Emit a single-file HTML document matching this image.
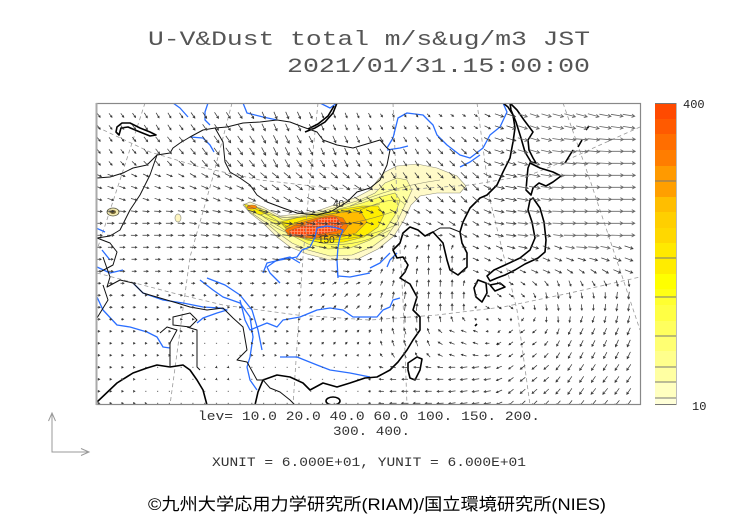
<!DOCTYPE html>
<html><head><meta charset="utf-8"><style>
html,body{margin:0;padding:0;background:#fff;}
svg{display:block;}
</style></head><body>
<svg id="s" width="752" height="532" viewBox="0 0 752 532" xmlns="http://www.w3.org/2000/svg">
<defs>
<clipPath id="cp"><rect x="96.5" y="103.5" width="544" height="301"/></clipPath>
<pattern id="hatch" width="3" height="3" patternUnits="userSpaceOnUse">
<rect width="3" height="3" fill="#ff4a10"/>
<path d="M0 0.5H3M0.5 0V3" stroke="#ff9a70" stroke-width="0.7"/>
</pattern>
</defs>
<rect width="752" height="532" fill="#fff"/>

<text x="148" y="45" textLength="442" lengthAdjust="spacingAndGlyphs" font-family="Liberation Mono, monospace" font-size="20" fill="#555">U-V&amp;Dust total m/s&amp;ug/m3 JST</text>
<text x="287" y="72" textLength="303" lengthAdjust="spacingAndGlyphs" font-family="Liberation Mono, monospace" font-size="20" fill="#555">2021/01/31.15:00:00</text>

<g clip-path="url(#cp)">
<!-- plume -->
<g stroke="#665" stroke-width="0.6" stroke-opacity="0.75">
<polygon fill="#fffac8" points="243,205 250,202 263,207 280,216 297,214 317,211 337,204 357,197 370,190 377,181 385,172 397,166 417,164 437,168 457,176 466,186 460,193 437,193 420,196 411,205 404,220 394,236 378,249 358,259 330,260 307,254 290,247 277,237 263,223 250,213"/>
<polygon fill="#ffffa0" points="245,205 260,208 280,218 300,216 320,212 340,206 360,200 375,193 385,183 397,178 407,180 412,190 405,205 397,222 387,236 372,247 352,255 330,256 308,250 292,243 278,233 265,222 250,212"/>
<polygon fill="#ffff60" points="250,206 265,210 283,220 303,217 323,213 343,208 362,203 380,197 395,193 400,200 395,215 385,230 370,240 350,248 328,249 308,244 293,236 280,227 265,218"/>
<polygon fill="#ffee00" points="280,222 300,217 322,213 343,209 362,206 378,206 384,215 378,227 364,237 344,242 324,243 307,240 290,233"/>
<polygon fill="#ffee00" points="244,204 256,207 266,213 260,215 248,210"/>
<polygon fill="#ffbb00" points="285,227 303,220 325,215 345,212 361,212 367,222 356,233 338,238 318,239 300,237"/>
<polygon fill="#ff7700" points="285,230 297,224 317,218 332,215 343,218 348,226 343,233 330,235 316,238 302,238 288,235"/>
<polygon fill="url(#hatch)" points="289,231 305,225 321,218 336,217 343,225 337,231 322,234 308,236 292,236"/>
<ellipse cx="252" cy="207" rx="5" ry="2" fill="#ff8800"/>
<path fill="none" d="M262,212 C290,224 330,214 380,204 M258,214 C295,232 340,230 392,212 M270,224 C300,244 350,246 398,224 M300,236 C330,250 360,246 390,230 M350,206 C380,192 410,184 440,180 M360,210 C385,200 400,196 405,205 M248,206 C265,212 275,220 290,228"/>
</g>
<ellipse cx="113" cy="212" rx="6" ry="4" fill="#f3eab0" stroke="#554" stroke-width="0.8"/>
<ellipse cx="113" cy="212" rx="3" ry="2" fill="#776633"/>
<ellipse cx="178" cy="218" rx="3" ry="4" fill="#fff6c0" stroke="#998" stroke-width="0.7"/>
<text x="333" y="207" font-family="Liberation Sans, sans-serif" font-size="10" fill="#333">40</text>
<text x="318" y="243" font-family="Liberation Sans, sans-serif" font-size="10" fill="#333">150</text>

<!-- dashed grid -->
<g fill="none" stroke="#999" stroke-width="0.8" stroke-dasharray="4,3">
<polyline points="145,103 120,180 97,250"/>
<polyline points="232,103 212,180 190,257 170,405"/>
<polyline points="318,103 310,180 303,257 293,405"/>
<polyline points="393,103 397,200 403,300 407,405"/>
<polyline points="477,103 490,200 517,310 530,405"/>
<polyline points="563,103 590,180 620,270 640,330"/>
<polyline points="97,127 150,152 200,167 260,180 330,188 400,190 470,185 530,175 567,160 600,145 640,127"/>
<polyline points="97,273 173,293 223,305 297,315 370,320 437,315 503,307 570,293 640,277"/>
</g>

<!-- rivers -->
<g fill="none" stroke="#2a6eff" stroke-width="1.3" stroke-linejoin="round">
<polyline points="173,103 180,108 188,117"/>
<polyline points="208,103 205,112 205,120 210,125"/>
<polyline points="190,137 203,138 210,145 214,152"/>
<polyline points="243,103 247,113 263,117 277,120"/>
<polyline points="320,103 330,108 337,103"/>
<polyline points="387,148 393,138 398,118 407,113 423,115 433,125 437,135 447,145 460,155 470,158 483,148 490,135 500,127 507,112 503,103"/>
<polyline points="460,167 470,162 480,155"/>
<polyline points="387,150 400,148 408,146"/>
<polyline points="263,273 267,263 280,260 297,257 302,250 310,247 315,237 317,228 327,226 337,228 343,230 340,237 338,247 337,260 338,278"/>
<polyline points="337,270 338,276 350,277 370,273"/>
<polyline points="397,253 390,260 387,267"/>
<polyline points="370,268 380,263 390,253"/>
<polyline points="240,300 245,320 250,330 267,323 277,327 283,320 300,317 317,310 330,308 343,310 353,317 370,317 377,317 383,310 390,307 393,300 400,298"/>
<polyline points="280,357 297,357 317,365 330,370 350,373 370,377"/>
<polyline points="97,297 103,310 117,325 130,327 147,332 157,337 163,347 170,348"/>
<polyline points="133,283 143,293 163,300 183,303 203,307 220,308 227,310 217,313 203,318 197,323"/>
<polyline points="200,280 213,290 223,297 240,303 250,317 253,337 250,357 247,367 250,380 257,390"/>
<polyline points="207,278 225,285 240,295 252,310 258,330 262,350"/>
<polyline points="97,267 110,273 123,270"/>
<polyline points="102,250 110,260"/>
<polyline points="300,263 290,257 277,260 267,267 270,273 280,283"/>
<polyline points="96,228 105,232"/>
</g>

<!-- coasts -->
<g fill="none" stroke="#000" stroke-width="1.6" stroke-linejoin="round">
<polyline points="503,103 508,107 513,115 515,128 513,142 510,158 503,172 497,185 487,195 480,198 470,208 463,222 460,232 462,243 467,253 467,267 458,275 450,270 447,260 443,243 433,232 425,236 418,230 410,227 403,233 400,243 393,250 397,258 403,257 408,265 405,272 400,278 410,284 417,297 413,310 420,317 420,330 413,340 407,350 398,362 390,370 377,377 365,378 350,383 337,387 323,383 310,390 303,383 290,377 277,375 263,380 258,392 255,405"/>
<polyline points="97,402 117,383 133,373 147,368 157,365 170,367 183,365 190,370 197,380 203,390 207,405"/>
<polygon points="510,103 517,110 524,120 530,128 533,132 528,140 529,150 533,158 536,163 531,162 525,152 521,138 516,122 511,110"/>
<polygon points="530,163 540,168 553,172 561,176 553,182 546,186 539,183 533,188 531,195 526,190 527,178 528,168"/>
<polygon points="533,198 540,208 544,222 546,240 545,252 538,258 525,264 515,270 505,275 497,278 490,281 487,276 494,270 505,265 520,258 530,250 535,238 532,222 528,210 530,200"/>
<polygon points="478,280 486,283 487,293 482,302 476,297 474,288"/>
<polygon points="490,285 500,283 505,287 495,291"/>
<polygon points="408,363 417,357 422,359 420,370 415,380 410,378 408,370"/>
<polygon points="117,127 122,123 130,123 140,128 150,132 156,135 150,136 140,132 128,127 121,128 119,135 116,132"/>
<polyline points="305,132 315,128 325,122 333,113 337,103"/>
<polyline points="308,129 318,124 328,116 334,106"/>
<ellipse cx="333" cy="401" rx="7" ry="4"/>
<path d="M565,163 L573,150 M578,147 L582,140 M586,130 L589,126 M475,326 l2,-2 M497,345 l1,-2"/>
</g>

<!-- borders -->
<g fill="none" stroke="#111" stroke-width="1" stroke-linejoin="round">
<polyline points="97,178 110,177 123,173 133,168 147,165 157,155 170,153 173,148 180,143 190,137 203,130 215,128 227,127 243,123 260,122 277,120 290,122 303,127 317,132 323,140 337,145 353,148 370,143 380,140 387,148"/>
<polyline points="215,128 223,142 225,162 230,172 240,178 250,185 257,195 267,202 283,208 297,213 317,215 330,212 347,202 357,192 370,188 380,180 387,165 390,150 387,148"/>
<polyline points="157,155 150,175 140,195 130,210 120,230 110,236 97,238"/>
<polyline points="97,238 110,243 117,252 113,265 100,272"/>
<polyline points="103,257 110,277 107,287 120,280 133,283 143,293 160,298 177,303 190,307 207,310 223,308 233,318 243,327 247,350 237,360 247,362 257,380 263,380"/>
<polygon points="173,317 190,313 197,320 190,327 173,325"/>
<polyline points="160,333 167,327 177,330 170,343 170,367"/>
<polyline points="187,327 197,330 197,367 200,370"/>
<polyline points="263,380 270,388 280,392 290,400 295,405"/>
<polyline points="97,318 108,300 103,285"/>
<polyline points="433,232 440,228 450,228 460,232"/>
</g>

<path id="arr" fill="none" stroke="#383838" stroke-width="0.75" d=""/>
<path id="arr2" fill="none" stroke="#666" stroke-width="0.8" d=""/>
</g>

<!-- frame -->
<rect x="96.5" y="103.5" width="544" height="301" fill="none" stroke="#888" stroke-width="1.2"/>
<line x1="96.5" y1="103" x2="96.5" y2="405" stroke="#aaa" stroke-width="2"/>

<!-- colorbar -->
<g id="cb"></g>
<text x="683" y="108" font-family="Liberation Mono, monospace" font-size="12" fill="#222">400</text>
<text x="692" y="410" font-family="Liberation Mono, monospace" font-size="12" fill="#222">10</text>

<!-- axis arrows -->
<g fill="none" stroke="#999" stroke-width="1">
<path d="M52 413V452H89"/>
<path d="M48.5 421L52 413L55.5 421"/>
<path d="M81 448.5L89 452L81 455.5"/>
</g>

<text x="198" y="420" textLength="342" lengthAdjust="spacingAndGlyphs" font-family="Liberation Mono, monospace" font-size="12.5" fill="#333">lev= 10.0 20.0 40.0 60.0 100. 150. 200.</text>
<text x="333" y="435" textLength="77" lengthAdjust="spacingAndGlyphs" font-family="Liberation Mono, monospace" font-size="12.5" fill="#333">300. 400.</text>
<text x="212" y="466" textLength="314" lengthAdjust="spacingAndGlyphs" font-family="Liberation Mono, monospace" font-size="12.5" fill="#333">XUNIT = 6.000E+01, YUNIT = 6.000E+01</text>
<text x="148" y="510" textLength="458" lengthAdjust="spacingAndGlyphs" font-family="Liberation Sans, Noto Sans CJK JP, sans-serif" font-size="17" fill="#000">©九州大学応用力学研究所(RIAM)/国立環境研究所(NIES)</text>
</svg>
<script>
(function(){
var NS="http://www.w3.org/2000/svg";
var b=[103,119,134,150,166,181,197,212,228,243,258,274,289,297,305,321,336,351,367,382,398,405];
var c=["#ff4a00","#ff5a00","#ff6e00","#ff7d00","#ff9a00","#ff9f00","#ffbe00","#ffcf00","#ffd800","#ffe900","#ffec00","#ffff00","#ffff14","#ffff30","#ffff44","#ffff5e","#ffff72","#ffff8c","#ffffa2","#ffffc0","#ffffd8"];
var g=document.getElementById("cb");
for(var i=0;i<c.length;i++){var r=document.createElementNS(NS,"rect");r.setAttribute("x",655);r.setAttribute("y",b[i]);r.setAttribute("width",22);r.setAttribute("height",b[i+1]-b[i]+0.3);r.setAttribute("fill",c[i]);g.appendChild(r);}
var lines=[181,258,297,336,367,382,398];
var d="M655 103.5H677M655 404.5H677";
lines.forEach(function(y){d+="M655 "+y+"H677";});
var p=document.createElementNS(NS,"path");p.setAttribute("d",d);p.setAttribute("stroke","#777");p.setAttribute("stroke-width","1");p.setAttribute("fill","none");g.appendChild(p);
var e=document.createElementNS(NS,"line");e.setAttribute("x1",676.5);e.setAttribute("x2",676.5);e.setAttribute("y1",103);e.setAttribute("y2",405);e.setAttribute("stroke","#bbb");e.setAttribute("stroke-width","1");g.appendChild(e);
var A=[
[110,115,3,4],[160,115,3,5],[220,115,4,6],[280,115,3,7],[340,115,2,5],[400,115,2,3],[460,115,3,2],[520,115,9,3],[580,115,11,3],[630,115,12,2],
[110,150,3,4],[160,150,4,5],[220,150,5,7],[280,150,4,8],[340,150,3,7],[400,150,3,5],[460,150,5,5],[520,150,10,3],[580,150,12,1],[630,150,13,0],
[110,190,6,2],[160,190,6,2],[220,190,7,3],[280,190,7,5],[340,190,7,5],[400,190,4,6],[460,190,6,6],[520,190,11,2],[580,190,13,0],[630,190,13,0],
[110,225,7,0],[160,225,7,0],[220,225,8,1],[280,225,10,1],[340,225,11,1],[400,225,7,3],[460,225,6,4],[520,225,10,1],[580,225,12,0],[630,225,12,0],
[110,260,5,0],[160,260,5,0],[220,260,6,0],[280,260,6,1],[340,260,6,1],[400,260,1,-5],[440,260,0,-7],[490,260,6,3],[550,260,7,3],[630,260,8,3],
[110,300,3,0],[160,300,2,0],[220,300,2,0],[280,300,2,-1],[340,300,3,-3],[410,300,1,-7],[450,300,0,-7],[500,300,4,3],[560,300,1,6],[630,300,-1,7],
[110,340,2,0],[160,340,2,0],[220,340,1,0],[280,340,2,0],[340,340,2,-2],[410,340,-2,-6],[460,340,-5,-2],[520,340,-4,3],[580,340,-3,6],[630,340,-3,7],
[110,380,2,0],[160,380,1,0],[220,380,1,1],[280,380,1,0],[340,380,-1,0],[410,380,-6,0],[470,380,-7,1],[530,380,-5,4],[580,380,-4,6],[630,380,-4,6],
[110,403,2,0],[220,403,1,0],[340,403,-1,0],[410,403,-7,0],[470,403,-7,1],[530,403,-5,5],[600,403,-5,6]];
function wind(x,y){var sw=0,su=0,sv=0;for(var k=0;k<A.length;k++){var a=A[k];var d2=(x-a[0])*(x-a[0])+(y-a[1])*(y-a[1])+1;var w=1/(d2*d2);sw+=w;su+=w*a[2];sv+=w*a[3];}return [su/sw,sv/sw];}
var s="",s2="",cs=Math.cos(0.5),sn=Math.sin(0.5);
function f(n){return n.toFixed(1);}
for(var j=0;j<25;j++){var y=403.3-12*j;for(var i=0;i<47;i++){var x=98.7+11.78*i;if(x>639)continue;var uv=wind(x,y),u=uv[0],v=uv[1];var L=Math.sqrt(u*u+v*v);
if(L<1.3){s+="M"+f(x-0.6)+" "+f(y)+"h1.2";continue;}
var x1=x-u/2,y1=y-v/2,x2=x+u/2,y2=y+v/2;var h=Math.max(2,Math.min(3.5,0.35*L));var ux=u/L,uy=v/L;
var ax=-(ux*cs-uy*sn)*h,ay=-(ux*sn+uy*cs)*h,bx=-(ux*cs+uy*sn)*h,by=-(-ux*sn+uy*cs)*h;
var seg="M"+f(x1)+" "+f(y1)+"L"+f(x2)+" "+f(y2)+"M"+f(x2+ax)+" "+f(y2+ay)+"L"+f(x2)+" "+f(y2)+"L"+f(x2+bx)+" "+f(y2+by);
if(x>520&&y<290&&L>9)s2+=seg;else s+=seg;}}
document.getElementById("arr").setAttribute("d",s);
document.getElementById("arr2").setAttribute("d",s2);
})();
</script>
</body></html>
